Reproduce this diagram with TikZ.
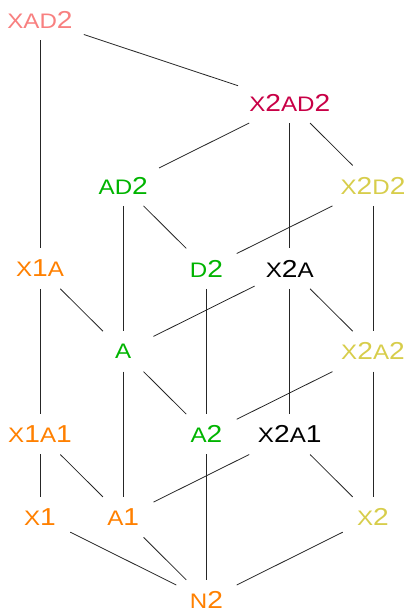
\documentclass[tikz,border=0pt]{standalone}
\usepackage{fontspec}
\newfontfamily\labfont[FakeStretch=1.15]{Liberation Sans}
% small capitals for the letter parts of a label
\newcommand\smc[1]{{\fontsize{21pt}{21pt}\selectfont #1}}
\definecolor{cpink}{RGB}{248,128,128}
\definecolor{ccrim}{RGB}{200,0,70}
\definecolor{cgreen}{RGB}{0,180,0}
\definecolor{cyell}{RGB}{215,205,75}
\definecolor{corange}{RGB}{255,128,0}
\begin{document}
\begin{tikzpicture}[x=1pt,y=-1pt,
  lat/.style={font=\labfont\fontsize{24.5pt}{24.5pt}\selectfont,
    minimum height=40pt, minimum width=60pt, inner xsep=11pt, inner ysep=0pt},
  edge/.style={draw=black!85, line width=0.8pt}]
\useasboundingbox (0,0) rectangle (409,612);
% lattice nodes
\node[lat, text=cpink]   (xad2)  at (40,20)       {\smc{X}\smc{AD}2};
\node[lat, text=ccrim]   (x2ad2) at (289.75,102.86) {\smc{X}2\smc{AD}2};
\node[lat, text=cgreen]  (ad2)   at (123.25,185.71) {\smc{AD}2};
\node[lat, text=cyell]   (x2d2)  at (373,185.71)  {\smc{X}2\smc{D}2};
\node[lat, text=corange] (x1a)   at (40,268.57)   {\smc{X}1\smc{A}};
\node[lat, text=cgreen]  (d2)    at (206.5,268.57) {\smc{D}2};
\node[lat, text=black]   (x2a)   at (289.75,268.57) {\smc{X}2\smc{A}};
\node[lat, text=cgreen]  (a)     at (123.25,351.43) {\smc{A}};
\node[lat, text=cyell]   (x2a2)  at (373,351.43)  {\smc{X}2\smc{A}2};
\node[lat, text=corange] (x1a1)  at (40,434.29)   {\smc{X}1\smc{A}1};
\node[lat, text=cgreen]  (a2)    at (206.5,434.29) {\smc{A}2};
\node[lat, text=black]   (x2a1)  at (289.75,434.29) {\smc{X}2\smc{A}1};
\node[lat, text=corange] (x1)    at (40,517.14)   {\smc{X}1};
\node[lat, text=corange] (a1)    at (123.25,517.14) {\smc{A}1};
\node[lat, text=cyell]   (x2)    at (373,517.14)  {\smc{X}2};
\node[lat, text=corange] (n2)    at (206.5,600)   {\smc{N}2};
% covering relations
\foreach \u/\v in {xad2/x2ad2, xad2/x1a, x2ad2/ad2, x2ad2/x2d2, x2ad2/x2a,
  ad2/a, ad2/d2, x2d2/d2, x2d2/x2a2, x1a/a, x1a/x1a1, d2/a2,
  x2a/a, x2a/x2a2, x2a/x2a1, a/a1, a/a2, x2a2/a2, x2a2/x2,
  x1a1/x1, x1a1/a1, x2a1/a1, x2a1/x2, x1/n2, a1/n2, a2/n2, x2/n2}
  \draw[edge] (\u) -- (\v);
\end{tikzpicture}
\end{document}
